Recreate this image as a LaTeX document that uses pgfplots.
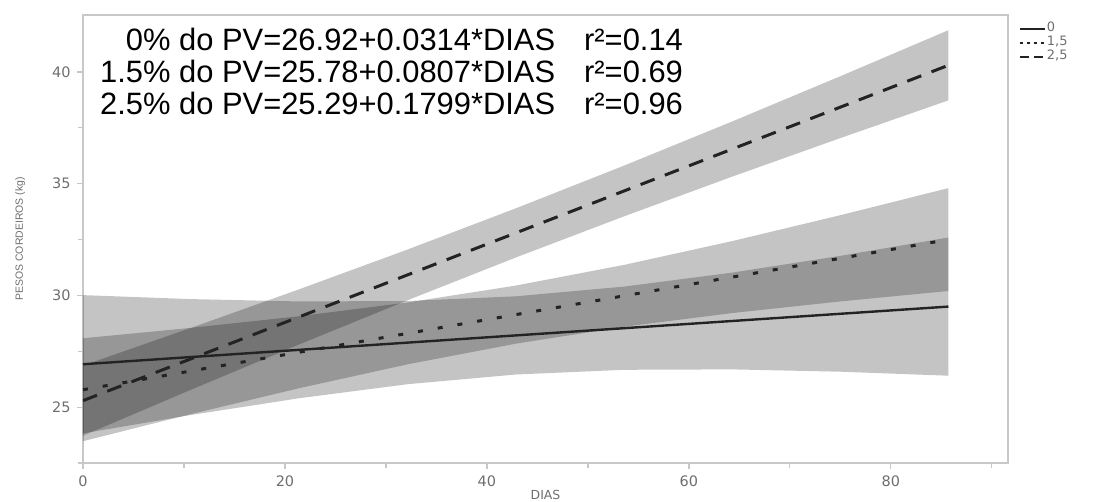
\documentclass[border=0pt]{standalone}
\usepackage{pgfplots}
\pgfplotsset{compat=1.18}
\usepackage{fontspec}
\setmainfont{Liberation Sans}
\newfontfamily\tickfont{DejaVu Sans}
\definecolor{axgray}{RGB}{200,200,200}
\definecolor{tkgray}{RGB}{110,110,110}
\definecolor{lndark}{RGB}{35,35,35}
\begin{document}
\begin{tikzpicture}
\begin{axis}[
  scale only axis, width=925bp, height=448bp,
  xmin=0, xmax=91.6, ymin=22.5, ymax=42.55,
  xtick={0,20,40,60,80}, ytick={25,30,35,40},
  minor xtick={10,30,50,70,90}, minor ytick={22.5,27.5,32.5,37.5},
  xtick pos=bottom, ytick pos=left, tick align=outside,
  major tick length=6bp, minor tick length=5bp,
  axis line style={draw=axgray, line width=1.5bp},
  every tick/.style={draw=axgray, line width=1.2bp},
  tick label style={font=\tickfont\fontsize{14.5}{14.5}\selectfont, text=tkgray},
  yticklabel style={xshift=-3bp},
  xticklabel style={yshift=-3bp},
  /pgf/number format/assume math mode=true,
  xlabel={DIAS},
  xlabel style={font=\tickfont\fontsize{12.5}{12.5}\selectfont, text=tkgray, at={(axis description cs:0.5,0)}, anchor=center, yshift=-32bp},
  ylabel={PESOS CORDEIROS (kg)},
  ylabel style={font=\fontsize{10.5}{10.5}\selectfont, text=tkgray, at={(axis description cs:-0.068,0.5)}, anchor=center},
  legend style={at={(rel axis cs:1.011,0.985)}, anchor=north west, draw=none, fill=none,
    font=\tickfont\fontsize{13}{13}\selectfont, text=tkgray, row sep=0pt, inner sep=0pt,
    nodes={inner sep=1bp, text height=8.5bp, text depth=3.5bp}},
  legend cell align=left,
]
% confidence bands
\addplot[forget plot, draw=none, fill=black, fill opacity=0.23] coordinates {
 (0,30.013) (10.7125,29.835) (21.425,29.730) (32.1375,29.750) (42.85,29.960) (53.5625,30.395) (64.275,31.020) (74.9875,31.770) (85.7,32.593)
 (85.7,26.407) (74.9875,26.586) (64.275,26.690) (53.5625,26.671) (42.85,26.460) (32.1375,26.026) (21.425,25.400) (10.7125,24.651) (0,23.827)
} -- cycle;
\addplot[forget plot, draw=none, fill=black, fill opacity=0.23] coordinates {
 (0,28.082) (10.7125,28.549) (21.425,29.070) (32.1375,29.684) (42.85,30.440) (53.5625,31.364) (64.275,32.430) (74.9875,33.589) (85.7,34.802)
 (85.7,30.198) (74.9875,29.731) (64.275,29.210) (53.5625,28.596) (42.85,27.840) (32.1375,26.916) (21.425,25.850) (10.7125,24.691) (0,23.478)
} -- cycle;
\addplot[forget plot, draw=none, fill=black, fill opacity=0.23] coordinates {
 (0,26.860) (10.7125,28.550) (21.425,30.277) (32.1375,32.054) (42.85,33.895) (53.5625,35.806) (64.275,37.782) (74.9875,39.808) (85.7,41.870)
 (85.7,38.730) (74.9875,37.040) (64.275,35.314) (53.5625,33.536) (42.85,31.695) (32.1375,29.784) (21.425,27.809) (10.7125,25.782) (0,23.720)
} -- cycle;
% regression lines
\addplot[lndark, line width=2.4bp,
  legend image code/.code={\draw[lndark, line width=2.4bp] (0bp,0bp) -- (25bp,0bp);}]
  coordinates {(0,26.92) (85.7,29.50)};
\addlegendentry{0}
\addplot[lndark, line width=3bp, dash pattern=on 5bp off 15bp,
  legend image code/.code={\draw[lndark, line width=2.6bp, dash pattern=on 3bp off 4bp] (0bp,0bp) -- (25bp,0bp);}]
  coordinates {(0,25.78) (85.7,32.50)};
\addlegendentry{1,5}
\addplot[lndark, line width=3bp, dash pattern=on 15bp off 11bp,
  legend image code/.code={\draw[lndark, line width=2.6bp, dash pattern=on 9bp off 5bp] (0bp,0bp) -- (25bp,0bp);}]
  coordinates {(0,25.29) (85.7,40.30)};
\addlegendentry{2,5}
\node[anchor=north west, inner sep=0pt, align=left] at (rel axis cs:0.0184,0.9727) {%
  \fontsize{31}{32.5}\selectfont
  \begin{tabular}{@{}r@{\hspace{29bp}}l@{}}
  0\% do PV=26.92+0.0314*DIAS & r²=0.14\\
  1.5\% do PV=25.78+0.0807*DIAS & r²=0.69\\
  2.5\% do PV=25.29+0.1799*DIAS & r²=0.96
  \end{tabular}};
\end{axis}
\path (current axis.south west) ++(-83bp,-39bp) coordinate (bl);
\path (current axis.north east) ++(87bp,15bp) coordinate (tr);
\pgfresetboundingbox
\useasboundingbox (bl) rectangle (tr);
\end{tikzpicture}
\end{document}
